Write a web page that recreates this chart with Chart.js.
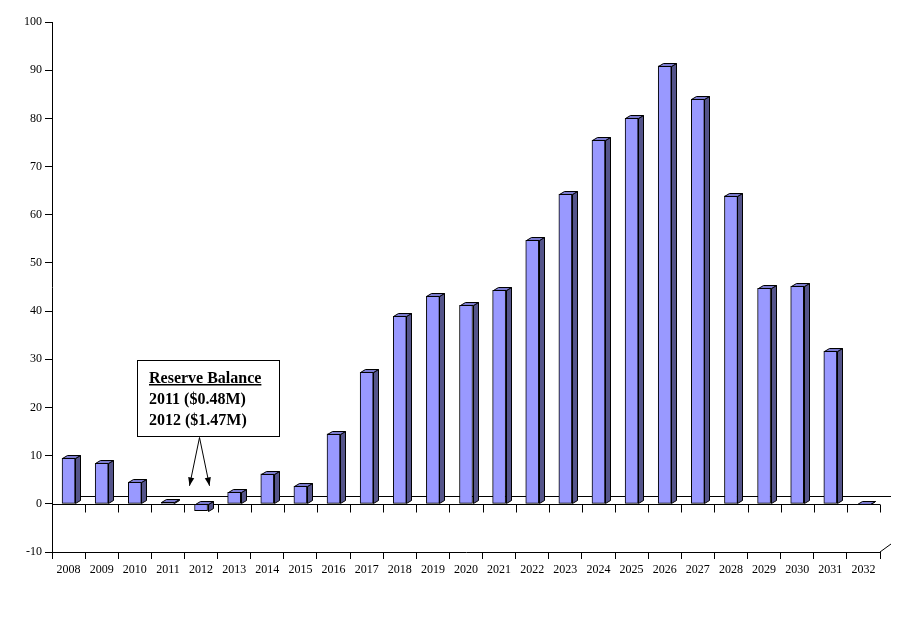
<!DOCTYPE html>
<html>
<head>
<meta charset="utf-8">
<script src="https://cdn.jsdelivr.net/npm/chart.js@4/dist/chart.umd.min.js"></script>
<style>
  html, body { margin: 0; padding: 0; background: #fff; }
  #wrap { width: 913px; height: 624px; }
</style>
</head>
<body>
<div id="wrap"><canvas id="myChart" width="913" height="624"></canvas></div>
<script>
// data
const years = ['2008', '2009', '2010', '2011', '2012', '2013', '2014', '2015', '2016', '2017',
    '2018', '2019', '2020', '2021', '2022', '2023', '2024', '2025', '2026', '2027',
    '2028', '2029', '2030', '2031', '2032'];
const reserve = [9.5, 8.4, 4.5, 0.3, -1.4, 2.4, 6.2, 3.7, 14.5, 27.3,
    38.9, 43.1, 41.2, 44.3, 54.7, 64.3, 75.5, 80.0, 90.9, 84.0,
    63.9, 44.7, 45.2, 31.7, 0];
const yMin = -10, yMax = 100, yStep = 10;
const noteTitle = 'Reserve Balance';
const noteLines = ['2011 ($0.48M)', '2012 ($1.47M)'];

const FRONT = '#9999ff', TOP = '#7b7bcf', SIDE = '#54548a';
const DX = 5, DY = 3;          // bar depth
const WX = 11, WY = 8;         // wall depth

// 3d look: floor lines, bar sides and the note box
const threeD = {
    id: 'threeD',
    beforeDatasetsDraw(chart) {
        const c = chart.ctx, a = chart.chartArea;
        const y = chart.scales.y;
        const y0 = Math.round(y.getPixelForValue(0)) + 0.5;
        c.save();
        c.strokeStyle = '#000';
        c.lineWidth = 1;
        c.beginPath();
        // back floor edge
        c.moveTo(a.left + WX, y0 - WY);
        c.lineTo(a.right + WX, y0 - WY);
        // front zero line with ticks
        c.moveTo(a.left, y0);
        c.lineTo(a.right, y0);
        const step = (a.right - a.left) / years.length;
        for (let i = 1; i <= years.length; i++) {
            const tx = Math.round(a.left + i * step) + 0.5;
            c.moveTo(tx, y0);
            c.lineTo(tx, y0 + 8);
        }
        // corner stub
        c.moveTo(a.right, a.bottom);
        c.lineTo(a.right + WX, a.bottom - WY);
        c.stroke();
        c.restore();
    },
    afterDatasetsDraw(chart) {
        const c = chart.ctx;
        const meta = chart.getDatasetMeta(0);
        c.save();
        c.strokeStyle = '#000';
        c.lineWidth = 1;
        meta.data.forEach(bar => {
            const p = bar.getProps(['x', 'y', 'base', 'width'], true);
            const l = Math.round(p.x - p.width / 2) + 0.5;
            const r = Math.round(p.x + p.width / 2) + 0.5;
            const t = Math.round(Math.min(p.y, p.base)) + 0.5;
            const b = Math.round(Math.max(p.y, p.base)) + 0.5;
            // side
            c.beginPath();
            c.moveTo(r, t);
            c.lineTo(r + DX, t - DY);
            c.lineTo(r + DX, b - DY);
            c.lineTo(r, b);
            c.closePath();
            c.fillStyle = SIDE;
            c.fill();
            c.stroke();
            // top
            c.beginPath();
            c.moveTo(l, t);
            c.lineTo(l + DX, t - DY);
            c.lineTo(r + DX, t - DY);
            c.lineTo(r, t);
            c.closePath();
            c.fillStyle = TOP;
            c.fill();
            c.stroke();
        });
        c.restore();
    },
    afterDraw(chart) {
        const c = chart.ctx;
        const y = chart.scales.y;
        const bx = 137.5, by = 360.5, bw = 142, bh = 76;
        c.save();
        c.fillStyle = '#fff';
        c.strokeStyle = '#000';
        c.lineWidth = 1;
        c.fillRect(bx, by, bw, bh);
        c.strokeRect(bx, by, bw, bh);
        c.fillStyle = '#000';
        c.font = 'bold 16px "Liberation Serif", "Times New Roman", serif';
        c.textBaseline = 'alphabetic';
        c.fillText(noteTitle, 149, 383);
        const tw = c.measureText(noteTitle).width;
        c.fillRect(149, 384, tw, 1.5);
        c.fillText(noteLines[0], 149, 404);
        c.fillText(noteLines[1], 149, 425);
        // arrows pointing down at 2011 and 2012
        const ox = 199.5, oy = by + bh + 1;
        const ty = y.getPixelForValue(0) - 18;
        [-10, 10].forEach(dx => {
            const ex = ox + dx, ey = ty;
            c.beginPath();
            c.moveTo(ox, oy);
            c.lineTo(ex, ey);
            c.stroke();
            const ang = Math.atan2(ey - oy, ex - ox);
            c.beginPath();
            c.moveTo(ex, ey);
            c.lineTo(ex - 9 * Math.cos(ang - 0.35), ey - 9 * Math.sin(ang - 0.35));
            c.lineTo(ex - 9 * Math.cos(ang + 0.35), ey - 9 * Math.sin(ang + 0.35));
            c.closePath();
            c.fill();
        });
        c.restore();
    }
};

const ctx = document.getElementById('myChart').getContext('2d');
const myChart = new Chart(ctx, {
    type: 'bar',
    data: {
        labels: years,
        datasets: [{
            label: 'Reserve Balance',
            data: reserve,
            backgroundColor: FRONT,
            borderColor: '#000',
            borderWidth: 1,
            borderSkipped: false,
            barThickness: 13
        }]
    },
    options: {
        responsive: false,
        animation: false,
        devicePixelRatio: 1,
        layout: { padding: { left: 0, right: 33, top: 22, bottom: 0 } },
        plugins: {
            legend: { display: false },
            tooltip: { enabled: false }
        },
        scales: {
            x: {
                grid: { display: true, drawOnChartArea: false, drawTicks: true, tickLength: 7, color: '#000', offset: true },
                border: { display: true, color: '#000' },
                ticks: {
                    color: '#000',
                    padding: 4,
                    maxRotation: 0,
                    autoSkip: false,
                    font: { family: '"Liberation Serif", "Times New Roman", serif', size: 12 }
                },
                afterFit: s => { s.height = 72; }
            },
            y: {
                min: yMin,
                max: yMax,
                grid: { display: true, drawOnChartArea: false, drawTicks: true, tickLength: 7, color: '#000' },
                border: { display: true, color: '#000' },
                ticks: {
                    stepSize: yStep,
                    color: '#000',
                    padding: 3,
                    font: { family: '"Liberation Serif", "Times New Roman", serif', size: 12 }
                },
                afterFit: s => { s.width = 52; }
            }
        }
    },
    plugins: [threeD]
});
</script>
</body>
</html>
